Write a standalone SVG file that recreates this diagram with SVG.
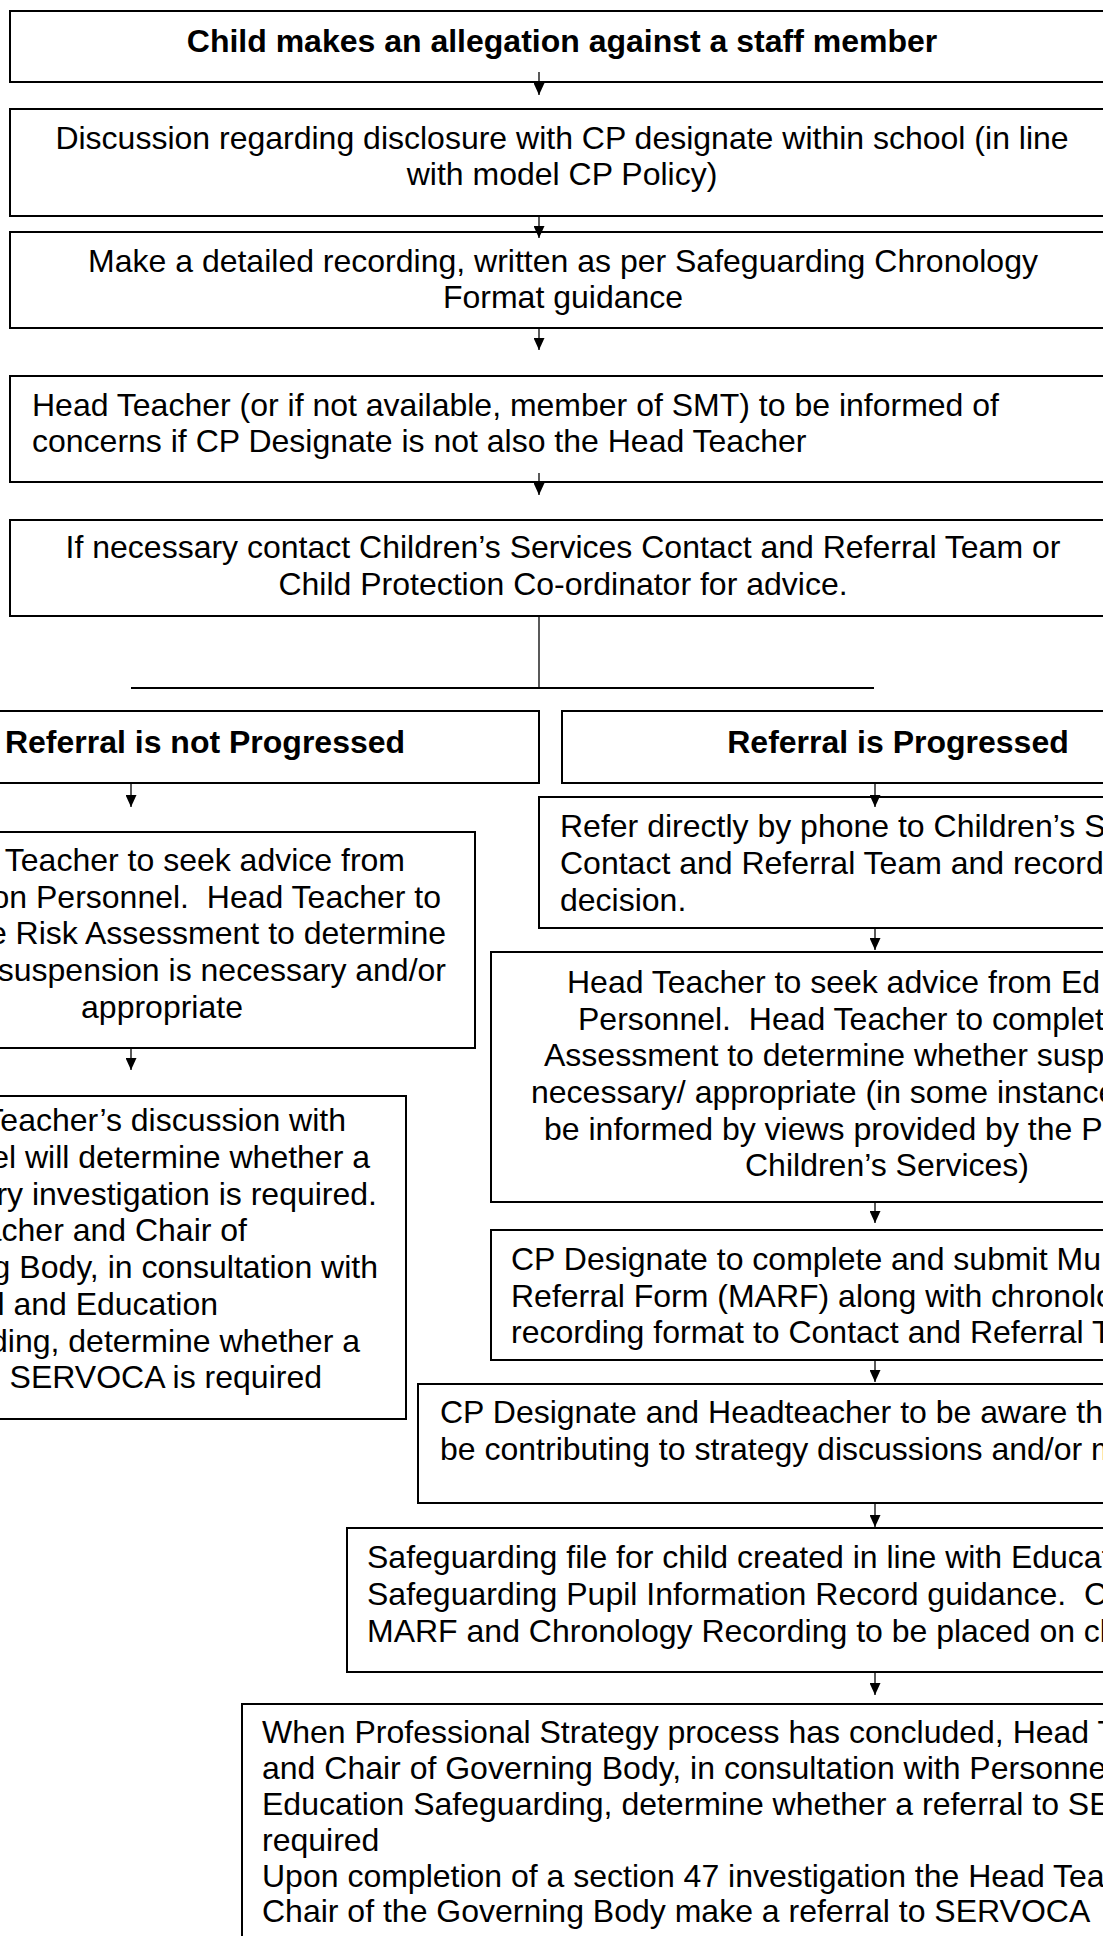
<svg xmlns="http://www.w3.org/2000/svg" width="1103" height="1936" viewBox="0 0 1103 1936">
<defs>
<marker id="ah" markerUnits="userSpaceOnUse" markerWidth="12" markerHeight="11" refX="12" refY="5.5" orient="auto" viewBox="0 0 12 11">
<path d="M0,0 L12,5.5 L0,11 z" fill="#000"/>
</marker>
<style>
.box{fill:#fff;stroke:#000;stroke-width:2}
text{font-family:"Liberation Sans",Arial,sans-serif;font-size:32px;fill:#000;white-space:pre}
.b{font-weight:bold}
.m{text-anchor:middle}
.e{text-anchor:end}
.arr{stroke:#000;stroke-width:1.3;fill:none;marker-end:url(#ah)}
.ln{stroke:#000;fill:none}
</style>
</defs>
<rect width="1103" height="1936" fill="#fff"/>
<g id="connectors">
<line class="ln" x1="539" y1="616" x2="539" y2="688" stroke-width="1.3"/>
<line class="ln" x1="131" y1="688" x2="874" y2="688" stroke-width="2"/>
</g>
<g id="n1"><rect class="box" x="10" y="11" width="1200" height="71"/><text class="b m" x="562" y="52">Child makes an allegation against a staff member</text></g>
<g id="n2"><rect class="box" x="10" y="109" width="1200" height="107"/><text class="m" x="562" y="149">Discussion regarding disclosure with CP designate within school (in line</text><text class="m" x="562" y="185">with model CP Policy)</text></g>
<g id="n3"><rect class="box" x="10" y="232" width="1200" height="96"/><text class="m" x="563" y="272">Make a detailed recording, written as per Safeguarding Chronology</text><text class="m" x="563" y="308">Format guidance</text></g>
<g id="n4"><rect class="box" x="10" y="376" width="1200" height="106"/><text x="32" y="416">Head Teacher (or if not available, member of SMT) to be informed of</text><text x="32" y="452">concerns if CP Designate is not also the Head Teacher</text></g>
<g id="n5"><rect class="box" x="10" y="520" width="1200" height="96"/><text class="m" x="563" y="558">If necessary contact Children’s Services Contact and Referral Team or</text><text class="m" x="563" y="595">Child Protection Co-ordinator for advice.</text></g>
<g id="l1"><rect class="box" x="-20" y="711" width="559" height="72"/><text class="b m" x="205" y="753">Referral is not Progressed</text></g>
<g id="r1"><rect class="box" x="562" y="711" width="700" height="72"/><text class="b m" x="898" y="753">Referral is Progressed</text></g>
<g id="l2"><rect class="box" x="-20" y="832" width="495" height="216"/>
<text class="e" x="405" y="871">Teacher to seek advice from</text>
<text class="e" x="441" y="908">on Personnel.  Head Teacher to</text>
<text class="e" x="446" y="944">e Risk Assessment to determine</text>
<text class="e" x="446" y="981">suspension is necessary and/or</text>
<text class="m" x="162" y="1018">appropriate</text></g>
<g id="l3"><rect class="box" x="-20" y="1096" width="426" height="323"/>
<text class="e" x="346" y="1131">Teacher’s discussion with</text>
<text class="e" x="370" y="1168">el will determine whether a</text>
<text class="e" x="377" y="1205">ry investigation is required.</text>
<text class="e" x="247" y="1241">acher and Chair of</text>
<text class="e" x="378" y="1278">g Body, in consultation with</text>
<text class="e" x="218" y="1315">l and Education</text>
<text class="e" x="360" y="1352">ding, determine whether a</text>
<text class="e" x="322" y="1388">SERVOCA is required</text></g>
<g id="r2"><rect class="box" x="539" y="797" width="700" height="131"/>
<text x="560" y="837">Refer directly by phone to Children’s S</text>
<text x="560" y="874">Contact and Referral Team and record</text>
<text x="560" y="911">decision.</text></g>
<g id="r3"><rect class="box" x="491" y="952" width="800" height="250"/>
<text x="567" y="993">Head Teacher to seek advice from Ed</text>
<text x="578" y="1030">Personnel.  Head Teacher to complet</text>
<text x="544" y="1066">Assessment to determine whether susp</text>
<text x="531" y="1103">necessary/ appropriate (in some instance</text>
<text x="544" y="1140">be informed by views provided by the P</text>
<text x="745" y="1176">Children’s Services)</text></g>
<g id="r4"><rect class="box" x="491" y="1230" width="800" height="130"/>
<text x="511" y="1270">CP Designate to complete and submit Mu</text>
<text x="511" y="1307">Referral Form (MARF) along with chronolo</text>
<text x="511" y="1343">recording format to Contact and Referral T</text></g>
<g id="r5"><rect class="box" x="418" y="1384" width="800" height="119"/>
<text x="440" y="1423">CP Designate and Headteacher to be aware th</text>
<text x="440" y="1460">be contributing to strategy discussions and/or m</text></g>
<g id="r6"><rect class="box" x="347" y="1528" width="800" height="144"/>
<text x="367" y="1568">Safeguarding file for child created in line with Educat</text>
<text x="367" y="1605">Safeguarding Pupil Information Record guidance.  C</text>
<text x="367" y="1642">MARF and Chronology Recording to be placed on cl</text></g>
<g id="r7"><rect class="box" x="242" y="1704" width="900" height="300"/>
<text x="262" y="1743">When Professional Strategy process has concluded, Head T</text>
<text x="262" y="1779">and Chair of Governing Body, in consultation with Personne</text>
<text x="262" y="1815">Education Safeguarding, determine whether a referral to SE</text>
<text x="262" y="1851">required</text>
<text x="262" y="1887">Upon completion of a section 47 investigation the Head Tea</text>
<text x="262" y="1922">Chair of the Governing Body make a referral to SERVOCA</text></g>
<g id="arrows">
<line class="arr" x1="539" y1="72" x2="539" y2="95"/>
<line class="arr" x1="539" y1="216" x2="539" y2="238"/>
<line class="arr" x1="539" y1="328" x2="539" y2="350"/>
<line class="arr" x1="539" y1="473" x2="539" y2="495"/>
<line class="arr" x1="131" y1="783" x2="131" y2="807"/>
<line class="arr" x1="131" y1="1048" x2="131" y2="1070"/>
<line class="arr" x1="875" y1="783" x2="875" y2="807"/>
<line class="arr" x1="875" y1="928" x2="875" y2="950"/>
<line class="arr" x1="875" y1="1202" x2="875" y2="1223"/>
<line class="arr" x1="875" y1="1360" x2="875" y2="1382"/>
<line class="arr" x1="875" y1="1503" x2="875" y2="1527"/>
<line class="arr" x1="875" y1="1672" x2="875" y2="1695"/>
</g>
</svg>
